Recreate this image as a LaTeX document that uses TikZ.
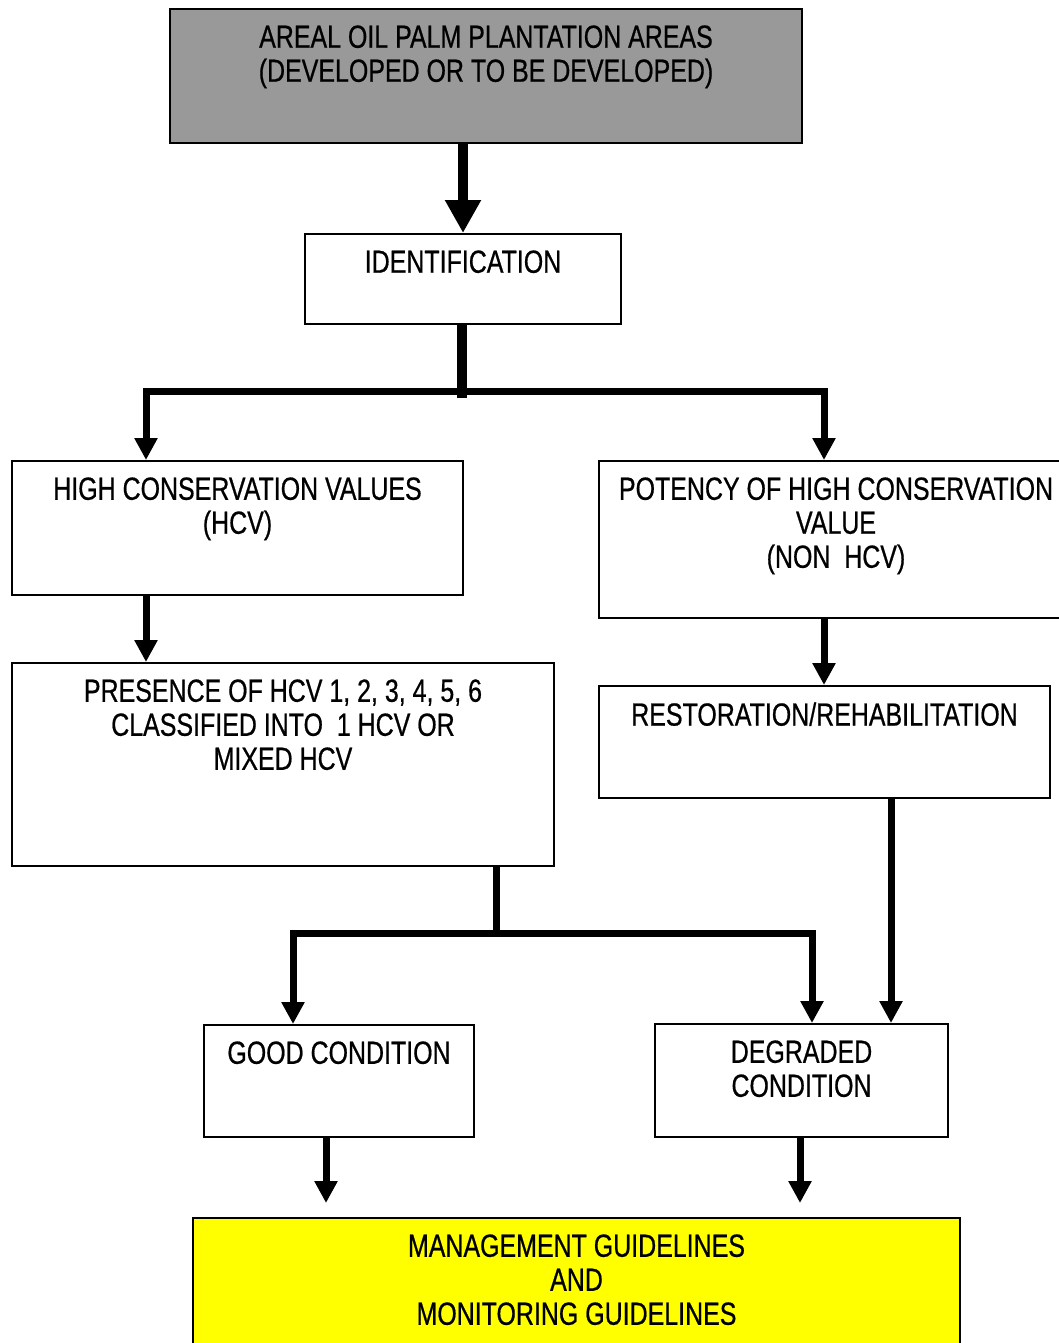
\documentclass[tikz,border=0pt]{standalone}
\usepackage{fontspec}
\setmainfont{Liberation Sans}[FakeStretch=0.78,FakeBold=0.6]
\usetikzlibrary{positioning,arrows.meta,calc}
\definecolor{ink}     {HTML}{000000}
\definecolor{slate}   {HTML}{999999}
\definecolor{lemon}   {HTML}{FFFF00}
\tikzset{
  % --- nodes
  stage/.style = {draw=ink, line width=1pt, fill=white, anchor=north west,
                  inner sep=0pt},
  top/.style   = {stage, fill=slate},
  goal/.style  = {stage, fill=lemon},
  txt/.style   = {align=center, inner sep=0pt, text=ink,
                  font=\fontsize{16}{17}\selectfont},
  % --- edges
  e/.style     = {draw=ink, line width=3.5pt},
  ea/.style    = {e, -{Triangle[length=11pt,width=11pt]}},
  ebig/.style  = {draw=ink, line width=5pt, -{Triangle[length=16.5pt,width=17pt]}},
}
\begin{document}
\begin{tikzpicture}[x=0.5pt,y=-0.5pt]
  \useasboundingbox (0,0) rectangle (1059,1343);
  % boxes
  \node[top,   minimum width=316pt,   minimum height=67pt]   (areal) at (169,8)    {};
  \node[stage, minimum width=158pt,   minimum height=45pt]   (ident) at (304,233)  {};
  \node[stage, minimum width=225.5pt, minimum height=67pt]   (hcv)   at (11,460)   {};
  \node[stage, minimum width=237pt,   minimum height=78.5pt] (pot)   at (598,460)  {};
  \node[stage, minimum width=271pt,   minimum height=101.5pt](pres)  at (11,662)   {};
  \node[stage, minimum width=225.5pt, minimum height=56pt]   (rest)  at (598,685)  {};
  \node[stage, minimum width=135pt,   minimum height=56pt]   (good)  at (203,1024) {};
  \node[stage, minimum width=146.5pt, minimum height=56.5pt] (degr)  at (654,1023) {};
  \node[goal,  minimum width=383.5pt, minimum height=70pt]   (mgmt)  at (192,1217) {};
  % texts
  \node[txt, below=8.5pt of areal.north] (arealtxt) {AREAL OIL PALM PLANTATION AREAS\\(DEVELOPED OR TO BE DEVELOPED)};
  \node[txt, below=8.5pt of ident.north] (identtxt) {IDENTIFICATION};
  \node[txt, below=8.5pt of hcv.north]   (hcvtxt)   {HIGH CONSERVATION VALUES\\(HCV)};
  \node[txt, below=8.5pt of pot.north]   (pottxt)   {POTENCY OF HIGH CONSERVATION\\VALUE\\(NON~~HCV)};
  \node[txt, below=8.5pt of pres.north]  (prestxt)  {PRESENCE OF HCV 1, 2, 3, 4, 5, 6\\CLASSIFIED INTO~~1 HCV OR\\MIXED HCV};
  \node[txt, below=8.5pt of rest.north]  (resttxt)  {RESTORATION/REHABILITATION};
  \node[txt, below=8.5pt of good.north]  (goodtxt)  {GOOD CONDITION};
  \node[txt, below=8.5pt of degr.north]  (degrtxt)  {DEGRADED\\CONDITION};
  \node[txt, below=8.5pt of mgmt.north]  (mgmttxt)  {MANAGEMENT GUIDELINES\\AND\\MONITORING GUIDELINES};
  % tap points
  \coordinate (splitA) at (462,391);
  \coordinate (tapL)   at (146,0);
  \coordinate (tapR)   at (824,0);
  \coordinate (splitB) at (496,933);
  \coordinate (tapG)   at (293,0);
  \coordinate (tapD)   at (812,0);
  \coordinate (tapS)   at (891,0);
  \coordinate (goodout) at (326,1203);
  \coordinate (degrout) at (800,1203);
  % connectors
  \draw[ebig] (ident.north |- areal.south) -- (ident.north);
  \draw[draw=ink, line width=5pt] (splitA |- ident.south) -- ($(splitA)+(0,7)$);
  \draw[ea] (splitA) -| (tapL |- hcv.north);
  \draw[ea] (splitA) -| (tapR |- pot.north);
  \draw[ea] (tapL |- hcv.south) -- (tapL |- pres.north);
  \draw[ea] (tapR |- pot.south) -- (tapR |- rest.north);
  \draw[e]  (splitB |- pres.south) -- (splitB);
  \draw[ea] (splitB) -| (tapG |- good.north);
  \draw[ea] (splitB) -| (tapD |- degr.north);
  \draw[ea] (tapS |- rest.south) -- (tapS |- degr.north);
  \draw[ea] (goodout |- good.south) -- (goodout);
  \draw[ea] (degrout |- degr.south) -- (degrout);
\end{tikzpicture}
\end{document}
